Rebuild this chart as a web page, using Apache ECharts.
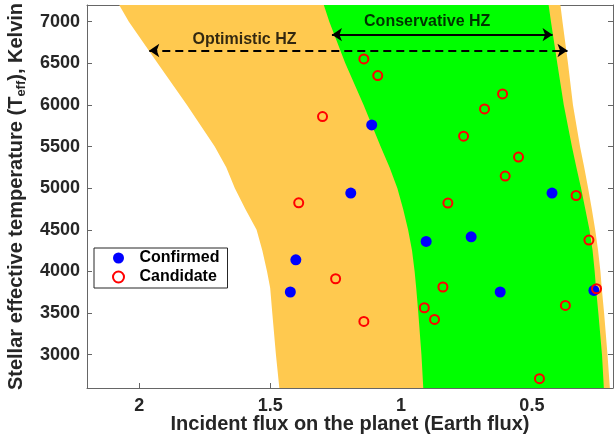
<!doctype html>
<html lang="en">
<head>
	<meta charset="UTF-8">
	<title>Habitable zone</title>
	<script src="https://cdn.jsdelivr.net/npm/echarts@6/dist/echarts.min.js"></script>
	<style>
		html, body { margin: 0; padding: 0; background: #fff; }
		#main { width: 615px; height: 435px; }
	</style>
</head>
<body>
<div id="main"></div>
<script type="text/javascript">
	// boundaries of the zones, flux at each temperature
	var tempGrid = [2600, 3000, 3500, 3800, 4000, 4250, 4500, 4750, 5000, 5250, 5500, 6000, 6500, 7000, 7200];
	var optInner = [1.465, 1.478, 1.492, 1.500, 1.512, 1.530, 1.552, 1.595, 1.635, 1.668, 1.712, 1.818, 1.930, 2.040, 2.077];
	var consInner = [0.915, 0.922, 0.934, 0.942, 0.948, 0.958, 0.973, 0.992, 1.014, 1.044, 1.078, 1.143, 1.213, 1.274, 1.295];
	var consOuter = [0.225, 0.232, 0.246, 0.255, 0.260, 0.268, 0.280, 0.296, 0.312, 0.330, 0.347, 0.378, 0.403, 0.427, 0.436];
	var optOuter = [0.202, 0.211, 0.224, 0.233, 0.238, 0.247, 0.258, 0.271, 0.285, 0.300, 0.316, 0.343, 0.362, 0.383, 0.391];

	// planets: [flux, Teff]
	var confirmed = [
		[1.112, 5760], [1.192, 4941], [0.423, 4941], [0.904, 4360], [0.732, 4416],
		[0.621, 3753], [0.263, 3772], [1.402, 4140], [1.423, 3753]
	];
	var candidate = [
		[1.391, 4824], [1.142, 6552], [1.089, 6352], [1.300, 5860], [0.612, 6132],
		[0.681, 5952], [0.761, 5625], [0.551, 5373], [0.602, 5145], [0.821, 4821],
		[0.331, 4912], [1.250, 3912], [1.142, 3400], [0.840, 3813], [0.911, 3564],
		[0.872, 3424], [0.282, 4377], [0.253, 3792], [0.372, 3592], [0.471, 2712]
	];

	var xTicks = [2, 1.5, 1, 0.5];
	var yTicks = [3000, 3500, 4000, 4500, 5000, 5500, 6000, 6500, 7000];

	// arrows and their captions
	var consArrow = [[1.264, 6844], [0.421, 6844]];
	var optArrow = [[1.962, 6654], [0.364, 6654]];
	var captions = [[1.598, 6780, 'Optimistic HZ'], [0.900, 7000, 'Conservative HZ']];

	var FONT = 'Liberation Sans, Arial, Helvetica, sans-serif';
	var myChart = echarts.init(document.getElementById('main'));

	function region(name, inner, outer, color) {
		return {
			type: 'custom',
			name: name,
			silent: true,
			z: 1,
			data: [[1, 5000]],
			renderItem: function (params, api) {
				var pts = [];
				for (var i = 0; i < tempGrid.length; i++) pts.push(api.coord([inner[i], tempGrid[i]]));
				for (var j = tempGrid.length - 1; j >= 0; j--) pts.push(api.coord([outer[j], tempGrid[j]]));
				return { type: 'polygon', shape: { points: pts }, style: { fill: color } };
			}
		};
	}

	var axisLineStyle = { color: '#666', width: 1 };
	var option = {
		animation: false,
		textStyle: { fontFamily: FONT },
		grid: { left: 87, right: 2, top: 5, bottom: 47, containLabel: false, outerBoundsMode: 'none' },
		legend: {
			data: ['Confirmed', 'Candidate'],
			orient: 'vertical',
			left: 94,
			top: 248,
			padding: [2, 8, 3, 18],
			itemGap: 3,
			itemWidth: 32,
			itemHeight: 11,
			borderColor: '#262626',
			borderWidth: 1,
			backgroundColor: '#fff',
			textStyle: { fontFamily: FONT, fontWeight: 'bold', fontSize: 16, color: '#000' }
		},
		xAxis: [{
			type: 'value', inverse: true, min: 0.19, max: 2.2, position: 'bottom',
			name: 'Incident flux on the planet (Earth flux)',
			nameLocation: 'middle', nameGap: 26, nameMoveOverlap: false,
			nameTextStyle: { fontFamily: FONT, fontWeight: 'bold', fontSize: 20, color: '#262626' },
			axisLine: { lineStyle: axisLineStyle },
			axisTick: { inside: true, length: 5, customValues: xTicks, lineStyle: axisLineStyle },
			axisLabel: { customValues: xTicks, margin: 9, fontWeight: 'bold', fontSize: 18, color: '#262626',
				formatter: function (v) { return String(v); } },
			splitLine: { show: false }
		}, {
			type: 'value', inverse: true, min: 0.19, max: 2.2, position: 'top',
			axisLine: { lineStyle: axisLineStyle },
			axisTick: { inside: true, length: 5, customValues: xTicks, lineStyle: axisLineStyle },
			axisLabel: { show: false },
			splitLine: { show: false }
		}],
		yAxis: [{
			type: 'value', min: 2600, max: 7200, position: 'left',
			name: 'Stellar effective temperature (T{sub|eff}), Kelvin',
			nameLocation: 'middle', nameGap: 59, nameMoveOverlap: false,
			nameTextStyle: {
				fontFamily: FONT, fontWeight: 'bold', fontSize: 20, color: '#262626',
				rich: { sub: { fontFamily: FONT, fontWeight: 'bold', fontSize: 13, color: '#262626', verticalAlign: 'bottom', padding: [10, 0, 0, 0] } }
			},
			axisLine: { show: true, lineStyle: axisLineStyle },
			axisTick: { show: true, inside: true, length: 5, customValues: yTicks, lineStyle: axisLineStyle },
			axisLabel: { customValues: yTicks, margin: 7, fontWeight: 'bold', fontSize: 18, color: '#262626',
				formatter: function (v) { return String(v); } },
			splitLine: { show: false }
		}, {
			type: 'value', min: 2600, max: 7200, position: 'right',
			axisLine: { show: true, lineStyle: axisLineStyle },
			axisTick: { show: true, inside: true, length: 5, customValues: yTicks, lineStyle: axisLineStyle },
			axisLabel: { show: false },
			splitLine: { show: false }
		}],
		series: [
			region('Optimistic', optInner, optOuter, '#FFC94F'),
			region('Conservative', consInner, consOuter, '#00FF00'),
			{
				name: 'Confirmed', type: 'scatter', z: 3, data: confirmed,
				symbol: 'circle', symbolSize: 11,
				itemStyle: { color: '#0000FF', opacity: 1 }
			},
			{
				name: 'Candidate', type: 'scatter', z: 4, data: candidate,
				symbol: 'circle', symbolSize: 9,
				itemStyle: { color: 'rgba(0,0,0,0)', borderColor: '#FF0000', borderWidth: 2, opacity: 1 }
			},
			{
				name: 'annot', type: 'scatter', z: 5, silent: true,
				data: captions, symbolSize: 0,
				label: {
					show: true, position: 'inside', fontFamily: FONT, fontWeight: 'bold', fontSize: 16, color: '#000',
					formatter: function (p) { return p.data[2]; }
				},
				markLine: {
					silent: true, animation: false,
					symbol: ['arrow', 'arrow'], symbolSize: 10,
					label: { show: false },
					data: [
						[{ coord: consArrow[0], lineStyle: { type: 'solid' } }, { coord: consArrow[1] }],
						[{ coord: optArrow[0], lineStyle: { type: [8, 5] } }, { coord: optArrow[1] }]
					],
					lineStyle: { color: '#000', width: 2 }
				}
			}
		]
	};

	myChart.setOption(option);
</script>
</body>
</html>
